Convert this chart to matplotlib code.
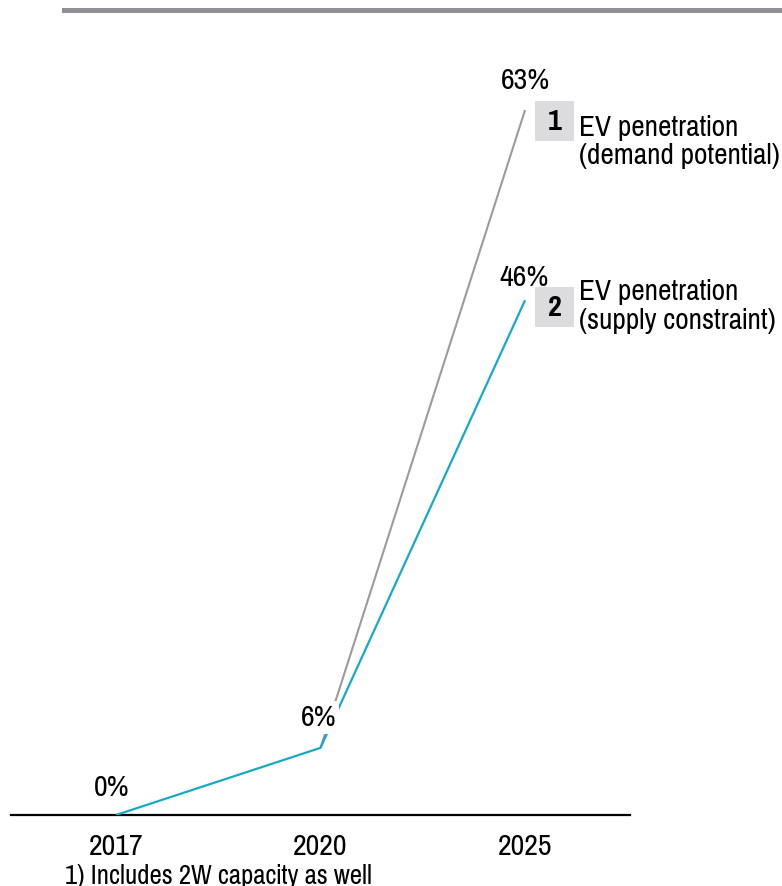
import numpy as np
import matplotlib
matplotlib.use("Agg")
from matplotlib import pyplot as plt
from matplotlib import transforms as mtransforms
from matplotlib.patches import Rectangle

plt.rcParams['font.family'] = ['Pragati Narrow', 'Roboto Condensed', 'Liberation Sans', 'DejaVu Sans']

# EV penetration, % of new sales
years = ["2017", "2020", "2025"]
supply = [0, 6, 46]          # supply constraint path
demand_years = ["2020", "2025"]
demand = [6, 63]             # demand potential path
footnote = "1) Includes 2W capacity as well"

CYAN = "#17a9c9"
GREY = "#9b9b9b"
BOX = "#dcdcdf"
FS = 23.5      # ticks and value labels
FS_TAG = 23    # series tag text
FS_NOTE = 21

W, H = 782, 886
fig = plt.figure(figsize=(W / 100, H / 100), dpi=100)

# axes span in pixels: x 11..630, y-zero at 815
x0, x1 = 11, 630
y_zero = 815
px_per_pct = 11.19
ymax = 70
ax = fig.add_axes([x0 / W, 1 - y_zero / H, (x1 - x0) / W, ymax * px_per_pct / H])

xpos = np.arange(len(years))
dpos = np.array([years.index(y) for y in demand_years])

ax.plot(dpos, demand, color=GREY, lw=1.5, solid_capstyle='butt', zorder=2)
ax.plot(xpos, supply, color=CYAN, lw=1.6, solid_capstyle='butt', zorder=3)

ax.set_xlim(-0.513, 2.513)
ax.set_ylim(0, ymax)

for sp in ['top', 'right', 'left']:
    ax.spines[sp].set_visible(False)
ax.spines['bottom'].set_linewidth(1.6)
ax.spines['bottom'].set_color('black')
ax.set_yticks([])
ax.set_xticks(xpos)
ax.set_xticklabels(years, fontsize=FS)
ax.tick_params(axis='x', length=0, pad=13)

# value labels above the points (offsets in points)
labels = [(0, supply[0], -3, 20), (1, supply[1], -1.5, 22),
          (2, supply[2], -1, 16.5), (2, demand[1], 0, 21.5)]
for x, v, dx, dy in labels:
    kw = {}
    if x == 1:
        kw['bbox'] = dict(boxstyle='square,pad=0.1', fc='white', ec='none')
    ax.annotate(f"{v}%", (x, v), xytext=(dx, dy),
                textcoords='offset points', ha='center', va='center',
                fontsize=FS, zorder=5, **kw)

# numbered series tags: grey 40px box next to the line end, then the caption
tags = [("1", "EV penetration\n(demand potential)", demand[1], 9, -23),
        ("2", "EV penetration\n(supply constraint)", supply[2], 13, -4.7)]
for num, txt, v, box_top, dy_txt in tags:
    at_point = mtransforms.ScaledTranslation(2, v, ax.transData)
    ax.add_patch(Rectangle((10, box_top - 40), 39, 40, fc=BOX, ec='none',
                           transform=at_point, clip_on=False))
    ax.annotate(num, (2, v), xytext=(29.5 * 0.72, (box_top - 20) * 0.72),
                textcoords='offset points', ha='center', va='center',
                fontsize=FS, fontweight='bold', annotation_clip=False)
    ax.annotate(txt, (2, v), xytext=(38.5, dy_txt), textcoords='offset points',
                ha='left', va='center', fontsize=FS_TAG, linespacing=1.13,
                annotation_clip=False)

# grey rule along the top
fig.add_artist(Rectangle((62 / W, 1 - 13 / H), 720 / W, 5 / H,
                         transform=fig.transFigure, fc="#8e9096", ec='none'))

fig.text(65 / W, 1 - 884 / H, footnote, fontsize=FS_NOTE, ha='left', va='baseline')

fig.savefig("out.png", dpi=100)
